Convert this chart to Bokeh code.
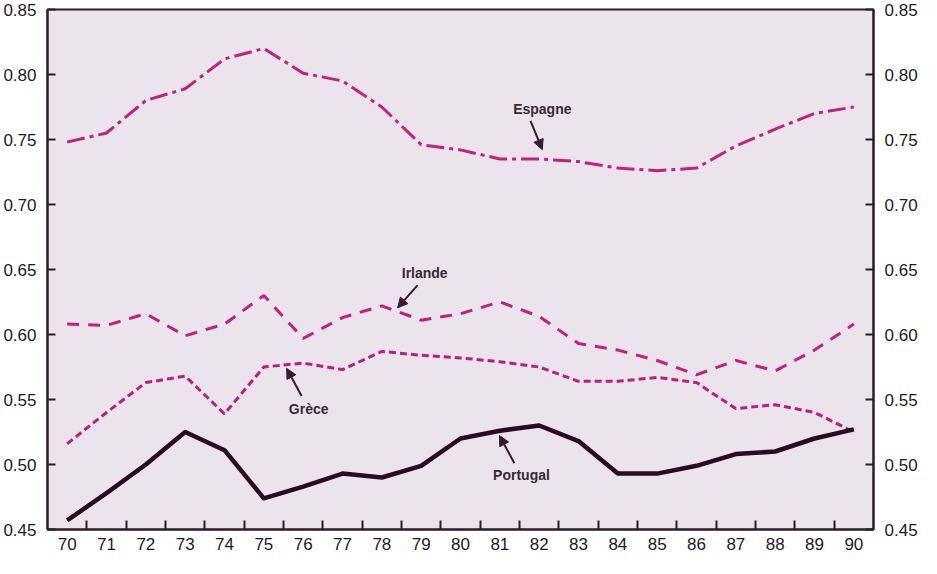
from bokeh.plotting import figure
from bokeh.models import (LinearAxis, FixedTicker, NumeralTickFormatter, Range1d,
                          Label, Arrow, NormalHead)
from bokeh.embed import file_html
from bokeh.resources import INLINE

years = list(range(70, 91))
espagne = [0.748, 0.755, 0.780, 0.789, 0.812, 0.820, 0.801, 0.795, 0.775, 0.746, 0.742,
           0.735, 0.735, 0.733, 0.728, 0.726, 0.728, 0.745, 0.758, 0.770, 0.775]
irlande = [0.608, 0.607, 0.616, 0.599, 0.608, 0.630, 0.597, 0.613, 0.622, 0.611, 0.616,
           0.625, 0.614, 0.593, 0.588, 0.580, 0.569, 0.580, 0.572, 0.588, 0.608]
grece = [0.516, 0.540, 0.563, 0.568, 0.539, 0.575, 0.578, 0.573, 0.587, 0.584, 0.582,
         0.579, 0.575, 0.564, 0.564, 0.567, 0.563, 0.543, 0.546, 0.540, 0.525]
portugal = [0.457, 0.478, 0.500, 0.525, 0.511, 0.474, 0.483, 0.493, 0.490, 0.499, 0.520,
            0.526, 0.530, 0.518, 0.493, 0.493, 0.499, 0.508, 0.510, 0.520, 0.527]
y_ticks = [0.45, 0.50, 0.55, 0.60, 0.65, 0.70, 0.75, 0.80, 0.85]
x_minor = [y + 0.5 for y in range(70, 90)]

FONT = "Liberation Sans"
AXIS_COL = "#2b1d28"
MAG = "#c2237a"

p = figure(width=921, height=558, output_backend="svg", toolbar_location=None,
           x_range=Range1d(69.5, 90.5), y_range=Range1d(0.45, 0.85),
           y_axis_location=None, x_axis_location=None,
           min_border_left=45, min_border_right=48, min_border_top=9, min_border_bottom=29)
p.background_fill_color = "#ece4ed"
p.border_fill_color = "white"
p.outline_line_color = AXIS_COL
p.outline_line_width = 2
p.grid.visible = False


def style_axis(ax):
    ax.axis_line_color = AXIS_COL
    ax.axis_line_width = 2
    ax.major_tick_line_color = AXIS_COL
    ax.major_tick_line_width = 2
    ax.minor_tick_line_color = AXIS_COL
    ax.minor_tick_line_width = 2
    ax.major_label_text_font = FONT
    ax.major_label_text_font_size = "17px"
    ax.major_label_text_color = "#1e1a1e"


for side in ("left", "right"):
    ax = LinearAxis(ticker=FixedTicker(ticks=y_ticks),
                    formatter=NumeralTickFormatter(format="0.00"))
    style_axis(ax)
    ax.major_tick_in = 8
    ax.major_tick_out = 0
    ax.minor_tick_in = 0
    ax.minor_tick_out = 0
    ax.major_label_standoff = 11
    p.add_layout(ax, side)

xa = LinearAxis(ticker=FixedTicker(ticks=years, minor_ticks=x_minor))
style_axis(xa)
xa.major_tick_in = 0
xa.major_tick_out = 0
xa.minor_tick_in = 9
xa.minor_tick_out = 0
xa.major_label_standoff = 8
p.add_layout(xa, "below")

p.line(years, espagne, line_color=MAG, line_width=3, line_dash="18 5 4 5")
p.line(years, irlande, line_color="#c0207e", line_width=3, line_dash="12 9")
p.line(years, grece, line_color="#b91f7b", line_width=3, line_dash="7 4")
p.line(years, portugal, line_color="#2a0b22", line_width=4.5, line_join="round")

labels = [("Espagne", 82.08, 0.7734, (81.78, 0.7643), (82.08, 0.7422)),
          ("Irlande", 79.09, 0.6471, (78.91, 0.638), (78.40, 0.6205)),
          ("Grèce", 76.14, 0.5428, (75.96, 0.5527), (75.58, 0.574)),
          ("Portugal", 81.55, 0.4919, (81.37, 0.501), (80.99, 0.5223))]
for txt, lx, ly, tail, head in labels:
    p.add_layout(Label(x=lx, y=ly, text=txt, text_font=FONT, text_font_size="14px",
                       text_font_style="bold", text_color="#3a2a33",
                       text_align="center", text_baseline="middle"))
    p.add_layout(Arrow(x_start=tail[0], y_start=tail[1], x_end=head[0], y_end=head[1],
                       line_color="#3a1a33", line_width=2,
                       end=NormalHead(size=10, fill_color="#3a1a33", line_color="#3a1a33")))

open("out.html", "w").write(file_html(p, INLINE))
